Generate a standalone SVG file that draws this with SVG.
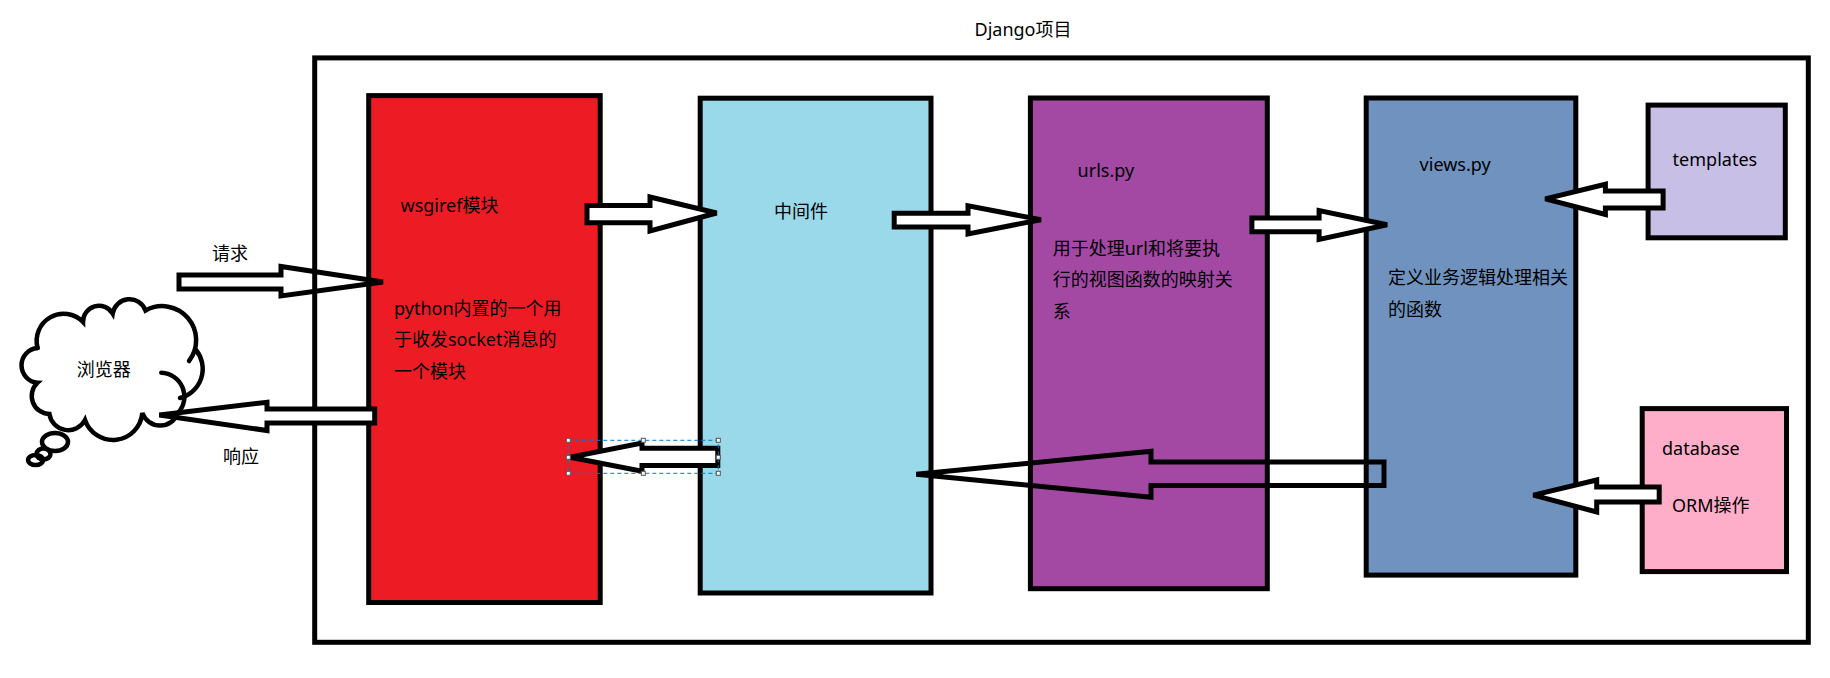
<svg xmlns="http://www.w3.org/2000/svg" width="1830" height="678" viewBox="0 0 1830 678">
<style>
  .box { stroke: #000; stroke-width: 5; }
  .t { font-family: "Noto Sans", "Noto Sans CJK SC", sans-serif; font-size: 18px; fill: #000; }
  .arr { stroke: #000; stroke-width: 5; stroke-linejoin: miter; fill: #fff; }
  .arrn { stroke: #000; stroke-width: 5; stroke-linejoin: miter; fill: none; }
  .cloud { stroke: #000; stroke-width: 4.5; fill: none; stroke-linecap: round; }
  .sel { stroke: #0078d7; stroke-width: 1; stroke-dasharray: 4 3; fill: none; }
  .hdl { stroke: #555; stroke-width: 1; fill: #fff; }
</style>
<rect width="1830" height="678" fill="#fff"/>

<g id="django-project">
  <rect x="314.7" y="57.9" width="1493.6" height="584.4" fill="#fff" class="box"/>
  <text class="t" x="974.5" y="35.5">Django项目</text>
</g>

<g id="wsgiref">
  <rect x="368.7" y="95.6" width="231.5" height="506.9" fill="#ed1c24" class="box"/>
  <text class="t" x="400.5" y="212">wsgiref模块</text>
  <text class="t" x="394" y="314.8">python内置的一个用</text>
  <text class="t" x="394" y="346">于收发socket消息的</text>
  <text class="t" x="394" y="378.3">一个模块</text>
</g>

<g id="middleware">
  <rect x="700.2" y="98.2" width="230.8" height="494.8" fill="#99d9ea" class="box"/>
  <text class="t" x="774" y="218.4">中间件</text>
</g>

<g id="urls">
  <rect x="1030.4" y="98" width="236.9" height="490.7" fill="#a349a4" class="box"/>
  <text class="t" x="1077.6" y="177.3">urls.py</text>
  <text class="t" x="1052.7" y="255">用于处理url和将要执</text>
  <text class="t" x="1052.7" y="286">行的视图函数的映射关</text>
  <text class="t" x="1052.7" y="317.8">系</text>
</g>

<g id="views">
  <rect x="1366.2" y="98" width="209.6" height="477.1" fill="#7092be" class="box"/>
  <text class="t" x="1419.6" y="170.8">views.py</text>
  <text class="t" x="1388" y="284">定义业务逻辑处理相关</text>
  <text class="t" x="1388" y="315.7">的函数</text>
</g>

<g id="templates">
  <rect x="1648.1" y="105.1" width="137.2" height="132.7" fill="#c8bfe7" class="box"/>
  <text class="t" x="1672.6" y="165.6">templates</text>
</g>

<g id="database">
  <rect x="1642.2" y="408.6" width="144.3" height="163" fill="#ffaec9" class="box"/>
  <text class="t" x="1662" y="455.3">database</text>
  <text class="t" x="1672" y="511.5">ORM操作</text>
</g>

<g id="browser">
  <path class="cloud" d="M37.6,348 A27,27 0 0 1 83,322 A16,16 0 0 1 112.7,313.5 A17,17 0 0 1 145.5,310.5 A34,34 0 0 1 189,361"/>
  <path class="cloud" d="M196,350 A30,30 0 0 1 180,398"/>
  <path class="cloud" d="M161.3,372.7 A24,24 0 0 1 178,413 A19,19 0 0 1 142.3,413 A29.5,29.5 0 0 1 85,420 A19,19 0 0 1 49.4,414 A18,18 0 0 1 37.6,382.7 A17.4,17.4 0 0 1 37.6,348"/>
  <ellipse class="cloud" cx="55" cy="442" rx="13" ry="9"/>
  <ellipse class="cloud" cx="43.5" cy="454" rx="7" ry="5.5"/>
  <ellipse class="cloud" cx="35.6" cy="460" rx="7.5" ry="5"/>
  <text class="t" x="76.7" y="376">浏览器</text>
</g>

<g id="connectors">
  <polygon class="arrn" points="179,275 281,275 281,266.5 383,282 281,296 281,289 179,289"/>
  <text class="t" x="212" y="260">请求</text>
  <polygon class="arr" points="374.7,409 267,409 267,402.3 159.3,415 267,430.5 267,423 374.7,423"/>
  <text class="t" x="223" y="462.7">响应</text>
  <polygon class="arr" points="587,205.5 650,205.5 650,197 716.6,213 650,231 650,222.7 587,222.7"/>
  <polygon class="arr" points="894.2,213.2 968,213.2 968,205.8 1040.9,219.7 968,233.9 968,227 894.2,227"/>
  <polygon class="arr" points="1251.9,217.9 1319.1,217.9 1319.1,210.6 1387.1,224.8 1319.1,239.5 1319.1,231.8 1251.9,231.8"/>
  <polygon class="arr" points="1663.1,191.1 1605.4,191.1 1605.4,184.2 1545.3,198.9 1605.4,214.5 1605.4,208 1663.1,208"/>
  <polygon class="arr" points="1659.2,486.9 1596.7,486.9 1596.7,480 1533.4,495.1 1596.7,512 1596.7,502 1659.2,502"/>
  <polygon class="arrn" points="1384,462 1151,462 1151,451.3 916.3,474.3 1151,497.2 1151,485.6 1384,485.6"/>
  <polygon class="arr" points="717.8,448.3 642,448.3 642,443 570,457.3 642,471.3 642,465.5 717.8,465.5"/>
  <rect class="sel" x="568.3" y="440.3" width="150" height="33"/>
  <rect class="hdl" x="566.3" y="438.3" width="4" height="4"/>
  <rect class="hdl" x="641.3" y="438.3" width="4" height="4"/>
  <rect class="hdl" x="716.3" y="438.3" width="4" height="4"/>
  <rect class="hdl" x="566.3" y="455.3" width="4" height="4"/>
  <rect class="hdl" x="716.3" y="455.3" width="4" height="4"/>
  <rect class="hdl" x="566.3" y="471.3" width="4" height="4"/>
  <rect class="hdl" x="641.3" y="471.3" width="4" height="4"/>
  <rect class="hdl" x="716.3" y="471.3" width="4" height="4"/>
</g>
</svg>
